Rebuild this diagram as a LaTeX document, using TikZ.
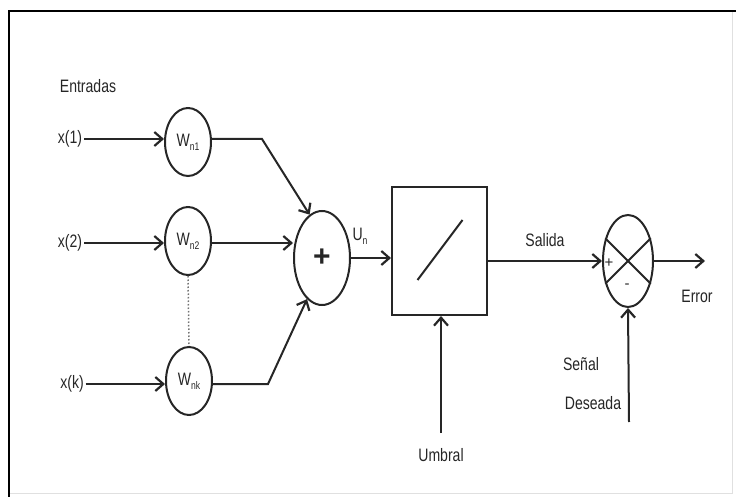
\documentclass[tikz,border=0pt]{standalone}
\usepackage{fontspec}
\setmainfont{Liberation Sans}
\usetikzlibrary{arrows.meta,shapes.geometric,calc}
\definecolor{ink}{HTML}{262626}
% narrow, tall lettering
\newcommand{\nar}[1]{\scalebox{0.78}[1]{#1}}
\newcommand{\wsub}[2]{\nar{#1\raisebox{-4pt}{\fontsize{11}{12}\selectfont #2}}}
\begin{document}
\begin{tikzpicture}[x=1pt,y=-1pt,
  line width=2pt, draw=ink,
  arr/.style={-{Straight Barb[length=8pt,width=14pt,line width=2.2pt]}},
  lbl/.style={font=\fontsize{18}{20}\selectfont, text=ink, inner sep=1pt},
  weight/.style={ellipse, draw, minimum width=46pt, minimum height=68pt, inner sep=0pt,
                 font=\fontsize{18}{18}\selectfont, text=ink},
  junction/.style={ellipse, draw, inner sep=0pt}]
  \useasboundingbox (0,0) rectangle (736,497);
  % frame
  \draw[line width=0.6pt, draw=black!12] (732,11) -- (732,493) -- (9,493);
  \draw[line width=2.6pt, draw=black] (9,497) -- (9,11) -- (736,11);

  % inputs and weights
  \node[lbl] (ent) at (88,86) {\nar{Entradas}};
  \node[lbl] (x1) at (70,139) {\nar{x(1)}};
  \node[lbl] (x2) at (70,243) {\nar{x(2)}};
  \node[lbl] (xk) at (72,384) {\nar{x(k)}};
  \node[weight] (w1) at (188,142) {\wsub{W}{n1}};
  \node[weight] (w2) at (188,241) {\wsub{W}{n2}};
  \node[weight] (wk) at (189,381) {\wsub{W}{nk}};
  \draw[arr] (x1) -- (x1 -| w1.west);
  \draw[arr] (x2) -- (x2 -| w2.west);
  \draw[arr] (xk) -- (xk -| wk.west);
  \draw[dotted, line width=1.5pt, draw=black!55] (w2.south) -- (wk.north);

  % summing junction
  \node[junction, minimum width=56pt, minimum height=94pt, font=\fontsize{30}{30}\selectfont\bfseries, text=ink] (sum) at (322,258) {+};
  \coordinate (k1) at (262,139);
  \coordinate (kk) at (268,384);
  \draw[arr] (x1 -| w1.east) -- (k1) -- (sum.106);
  \draw[arr] (x2 -| w2.east) -- (x2 -| sum.west);
  \draw[arr] (xk -| wk.east) -- (kk) -- (sum.-110);
  \node[lbl] (un) at (360,236) {\wsub{U}{n}};

  % activation block
  \node[draw, minimum width=95pt, minimum height=128pt, inner sep=0pt] (box) at (439.5,251) {};
  \draw ($(box.center)+(-22,29)$) -- ($(box.center)+(23,-31)$);
  \draw[arr] (sum.east) -- (sum.east -| box.west);
  \coordinate (u0) at (441,433);
  \node[lbl] (umb) at (441,455) {\nar{Umbral}};
  \draw[arr] (u0) -- (u0 |- box.south);

  % error junction
  \node[junction, minimum width=50pt, minimum height=92pt] (cmp) at (628,261) {};
  \draw (cmp.135) -- (cmp.-45);
  \draw (cmp.45) -- (cmp.-135);
  \node[lbl, font=\fontsize{15}{16}\selectfont] (plus) at (609,263) {+};
  \node[lbl, font=\fontsize{15}{16}\selectfont] (minus) at (627,286) {-};
  \draw[arr] (box.east |- cmp.west) -- (cmp.west);
  \node[lbl] (sal) at (545,240) {\nar{Salida}};
  \coordinate (e0) at (705,261);
  \draw[arr] (cmp.east) -- (e0);
  \node[lbl] (err) at (697,296) {\nar{Error}};
  \coordinate (d0) at (629,422);
  \draw[arr] (d0) -- (cmp.south);
  \node[lbl] (sen) at (581,364) {\nar{Señal}};
  \node[lbl] (des) at (593,403) {\nar{Deseada}};
\end{tikzpicture}
\end{document}
